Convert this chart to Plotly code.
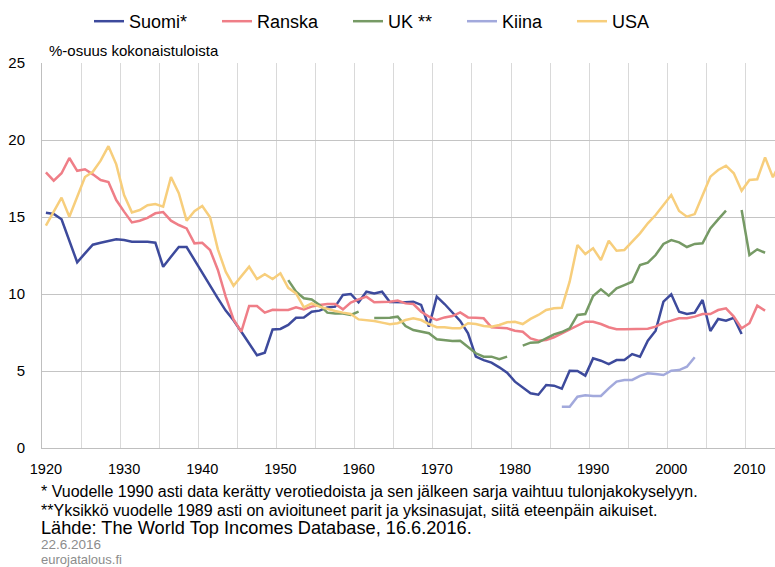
import plotly.graph_objects as go

years = list(range(1920, 2015))

suomi = [15.28, 15.2, 14.85, 13.5, 12.06, 12.64, 13.2, 13.33, 13.44, 13.55,
         13.5, 13.4, 13.4, 13.4, 13.33, 11.77, 12.42, 13.05, 13.05, 12.2,
         11.34, 10.5, 9.72, 8.92, 8.3, 7.55, 6.8, 6.02, 6.19, 7.7,
         7.73, 7.99, 8.46, 8.48, 8.85, 8.92, 9.13, 9.18, 9.94, 10.0,
         9.46, 10.15, 10.04, 10.15, 9.48, 9.46, 9.46, 9.5, 9.29, 7.88,
         9.83, 9.35, 8.81, 8.25, 7.45, 5.93, 5.71, 5.54, 5.24, 4.89,
         4.31, 3.92, 3.55, 3.46, 4.09, 4.05, 3.85, 5.02, 5.0, 4.7,
         5.82, 5.67, 5.45, 5.71, 5.71, 6.1, 5.93, 6.97, 7.62, 9.5,
         9.98, 8.85, 8.7, 8.79, 9.61, 7.6, 8.38, 8.27, 8.46, 7.4,
         None, None, None, None, None]

ranska = [17.9, 17.36, 17.84, 18.83, 18.0, 18.1, 17.77, 17.4, 17.27, 16.1,
          15.35, 14.65, 14.76, 14.94, 15.24, 15.32, 14.76, 14.48, 14.26, 13.29,
          13.33, 12.86, 11.56, 9.83, 8.35, 7.55, 9.22, 9.22, 8.79, 8.98,
          8.96, 8.96, 9.13, 9.0, 9.18, 9.29, 9.35, 9.35, 9.0, 9.44,
          9.65, 9.83, 9.46, 9.46, 9.5, 9.57, 9.39, 9.35, 8.85, 8.53,
          8.31, 8.48, 8.57, 8.81, 8.48, 8.46, 8.42, 7.84, 7.81, 7.77,
          7.62, 7.55, 7.12, 6.97, 7.01, 7.19, 7.45, 7.71, 7.94, 8.2,
          8.2, 8.05, 7.84, 7.71, 7.71, 7.73, 7.73, 7.75, 7.88, 8.14,
          8.27, 8.42, 8.42, 8.53, 8.7, 8.7, 8.96, 9.07, 8.53, 7.77,
          8.1, 9.24, 8.92, None, None]

uk = [None] * 31 + [10.9, 10.15, 9.72, 9.65, 9.29, 8.79, 8.74, 8.74, 8.64,
      8.85, None, 8.44, 8.46, 8.46, 8.53, 7.92, 7.66, 7.55, 7.45,
      7.06, 7.01, 6.95, 6.97, 6.58, 6.15, 5.93, 5.93, 5.76, 5.93,
      None, 6.65, 6.84, 6.86, 7.12, 7.38, 7.53, 7.77, 8.64, 8.7,
      9.87, 10.3, 9.89, 10.37, 10.58, 10.8, 11.88, 12.03, 12.53, 13.25,
      13.5, 13.35, 13.05, 13.25, 13.29, 14.26, 14.85, 15.41, None, 15.45,
      12.53, 12.9, 12.68, None, None]

kiina = [None] * 66 + [2.68, 2.68, 3.33, 3.42, 3.38, 3.38, 3.87, 4.31, 4.42,
         4.42, 4.68, 4.85, 4.81, 4.74, 5.02, 5.06, 5.28, 5.89] + [None] * 11

usa = [14.44, 15.35, 16.26, 15.02, 16.32, 17.6, 17.94, 18.66, 19.6, 18.42,
       16.43, 15.3, 15.45, 15.76, 15.84, 15.67, 17.6, 16.54, 14.76, 15.37,
       15.71, 14.98, 12.9, 11.45, 10.54, 11.13, 11.77, 10.97, 11.28, 10.97,
       11.34, 10.4, 10.04, 9.13, 9.39, 9.18, 9.03, 8.9, 8.79, 8.7,
       8.35, 8.31, 8.25, 8.14, 8.03, 8.1, 8.31, 8.42, 8.31, 8.05,
       7.84, 7.84, 7.77, 7.77, 8.1, 8.05, 7.92, 7.88, 7.99, 8.16,
       8.2, 8.05, 8.38, 8.64, 8.96, 9.07, 9.11, 10.8, 13.18, 12.6,
       12.97, 12.2, 13.46, 12.81, 12.86, 13.4, 13.94, 14.59, 15.13, 15.78,
       16.43, 15.39, 15.02, 15.19, 16.43, 17.62, 18.05, 18.33, 17.84, 16.71,
       17.4, 17.45, 18.87, 17.58, 18.6]

series_names = ["Suomi*", "Ranska", "UK **", "Kiina", "USA"]
series_values = [suomi, ranska, uk, kiina, usa]
series_colors = ["#3D4A9C", "#EF7E87", "#769A65", "#A2A9DC", "#F7CE7C"]

x_tick_vals = list(range(1920, 2011, 10))
y_tick_vals = [0, 5, 10, 15, 20, 25]

y_title = "%-osuus kokonaistuloista"
note1 = "* Vuodelle 1990 asti data kerätty verotiedoista ja sen jälkeen sarja vaihtuu tulonjakokyselyyn."
note2 = "**Yksikkö vuodelle 1989 asti on avioituneet parit ja yksinasujat, siitä eteenpäin aikuiset."
source = "Lähde: The World Top Incomes Database, 16.6.2016."
date_txt = "22.6.2016"
site_txt = "eurojatalous.fi"

FONT = "Arial, Liberation Sans, sans-serif"

W, H = 775, 567
L, R, T, B = 42, 0, 63, 119
plot_h = H - T - B

legend_keys = ["legend", "legend2", "legend3", "legend4", "legend5"]
legend_x_px = [89, 217, 348, 462, 572]

fig = go.Figure()
for name, vals, col, lk in zip(series_names, series_values, series_colors, legend_keys):
    fig.add_trace(go.Scatter(x=years, y=vals, mode="lines", name=name,
                             line=dict(color=col, width=2.5),
                             connectgaps=False, legend=lk))


def py(ypx):
    return (H - B - ypx) / plot_h


layout_legends = {}
for lk, lx in zip(legend_keys, legend_x_px):
    layout_legends[lk] = dict(orientation="h", xref="container", yref="container",
                              x=lx / W, y=1 - 3 / H, xanchor="left", yanchor="top",
                              font=dict(size=18, family=FONT, color="#000000"),
                              bgcolor="rgba(0,0,0,0)", itemwidth=30)

fig.update_layout(
    width=W, height=H,
    margin=dict(l=L, r=R, t=T, b=B, pad=0),
    paper_bgcolor="white", plot_bgcolor="white",
    font=dict(family=FONT, color="#000000"),
    showlegend=True,
    xaxis=dict(range=[1919.5, 2013.27], tickmode="array", tickvals=x_tick_vals,
               showgrid=False, zeroline=False, showline=True,
               linecolor="#BFBFBF", linewidth=1, ticks="",
               ticklabelstandoff=8,
               tickfont=dict(size=14.5, family=FONT, color="#000000"),
               minor=dict(tickmode="array",
                          tickvals=[1919.5 + 5 * k for k in range(19)],
                          showgrid=True, gridcolor="#D9D9D9", gridwidth=1,
                          ticks="")),
    yaxis=dict(range=[0, 25], tickmode="array", tickvals=y_tick_vals,
               showgrid=True, gridcolor="#C4C4C4", gridwidth=1,
               zeroline=False, showline=True, linecolor="#BFBFBF",
               linewidth=1, ticks="", ticklabelstandoff=13,
               tickfont=dict(size=15, family=FONT, color="#000000")),
    **layout_legends,
)

ann = [
    (y_title, 48, 50, 15, "#000000"),
    (note1, 40, 491, 16, "#000000"),
    (note2, 40, 510, 16, "#000000"),
    (source, 40, 528, 18.2, "#000000"),
    (date_txt, 40, 544, 13.5, "#8C8C8C"),
    (site_txt, 40, 559.5, 13, "#8C8C8C"),
]
for text, xpx, ypx, size, col in ann:
    fig.add_annotation(text=text, xref="paper", yref="paper",
                       x=(xpx - L) / (W - L - R), y=py(ypx),
                       xanchor="left", yanchor="middle", showarrow=False,
                       borderpad=0,
                       font=dict(size=size, family=FONT, color=col))

fig.write_html("out.html",
               config={"displayModeBar": False},
               post_script="document.body.style.margin='0';document.body.style.overflow='hidden';")
